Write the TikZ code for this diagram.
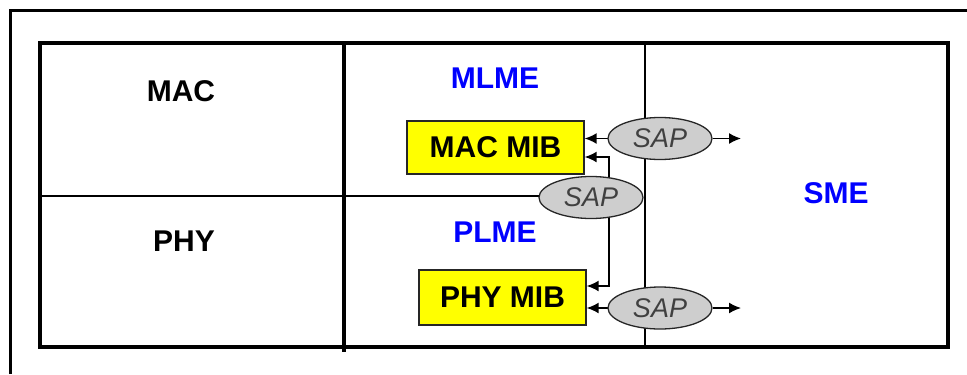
\documentclass[tikz,border=0pt]{standalone}
\usepackage{fontspec}
\setmainfont{Liberation Sans}
\usetikzlibrary{arrows.meta,shapes.geometric,backgrounds}
\definecolor{entityblue}{RGB}{0,0,255}
\definecolor{mibyellow}{RGB}{255,255,0}
\definecolor{sapgray}{RGB}{206,206,206}
\tikzset{
  layername/.style={font=\fontsize{15}{18}\selectfont\bfseries, inner sep=0pt},
  entity/.style={layername, text=entityblue},
  mib/.style={draw=black!85, line width=0.7pt, fill=mibyellow, layername,
    inner sep=0pt},
  sap/.style={ellipse, draw=black!85, line width=0.65pt, fill=sapgray,
    minimum width=52pt, minimum height=21pt, inner sep=0pt,
    font=\fontsize{13.5}{16}\selectfont\itshape, text=black!75},
  link/.style={line width=0.75pt, -{Latex[length=6pt,width=5.5pt]}},
  thinrule/.style={line width=0.75pt},
  thickrule/.style={line width=2.3pt},
}
\begin{document}
\begin{tikzpicture}[x=0.5pt, y=-0.5pt]
  \useasboundingbox (0,0) rectangle (967,374);

  % layer and entity labels
  \node[layername] (mac) at (181,91) {MAC};
  \node[layername] (phy) at (184,241) {PHY};
  \node[entity] (mlme) at (495,78) {MLME};
  \node[entity] (plme) at (495,232) {PLME};
  \node[entity] (sme) at (836,193) {SME};

  % management information bases
  \node[mib, minimum width=88.5pt, minimum height=26.5pt] (macmib) at (495.5,147.5) {MAC MIB};
  \node[mib, minimum width=83.5pt, minimum height=27.5pt] (phymib) at (502.5,297.5) {PHY MIB};

  % service access points
  \node[sap] (sapT) at (660,138.5) {SAP};
  \node[sap] (sapM) at (591,197.5) {SAP};
  \node[sap] (sapB) at (660,308) {SAP};

  \coordinate (outT) at (741,138.5);
  \coordinate (outB) at (741,308);
  \coordinate (split) at (591,196);

  \begin{scope}[on background layer]
    % outer frame
    \draw[line width=1.5pt] (10,374) -- (10,11) -- (967,11);
    % layer table
    \draw[thinrule] (645,43) -- (645,347);
    \draw[thinrule] (40,196) -- (split);
    \draw[thickrule] (40,43) rectangle (948,347);
    \draw[line width=2pt] (344,43) -- (344,352);

    % connectors
    \draw[link] (sapT.center) -- (sapT.center -| macmib.east);
    \draw[link] (sapT.east) -- (outT);
    \draw[link] ([xshift=9pt]sapM.center) |- ([yshift=-4.75pt]macmib.east);
    \draw[link] ([xshift=9pt]sapM.center) |- ([yshift=5.75pt]phymib.east);
    \draw[link] (sapB.center) -- (sapB.center -| phymib.east);
    \draw[link] (sapB.east) -- (outB);
  \end{scope}
\end{tikzpicture}
\end{document}
